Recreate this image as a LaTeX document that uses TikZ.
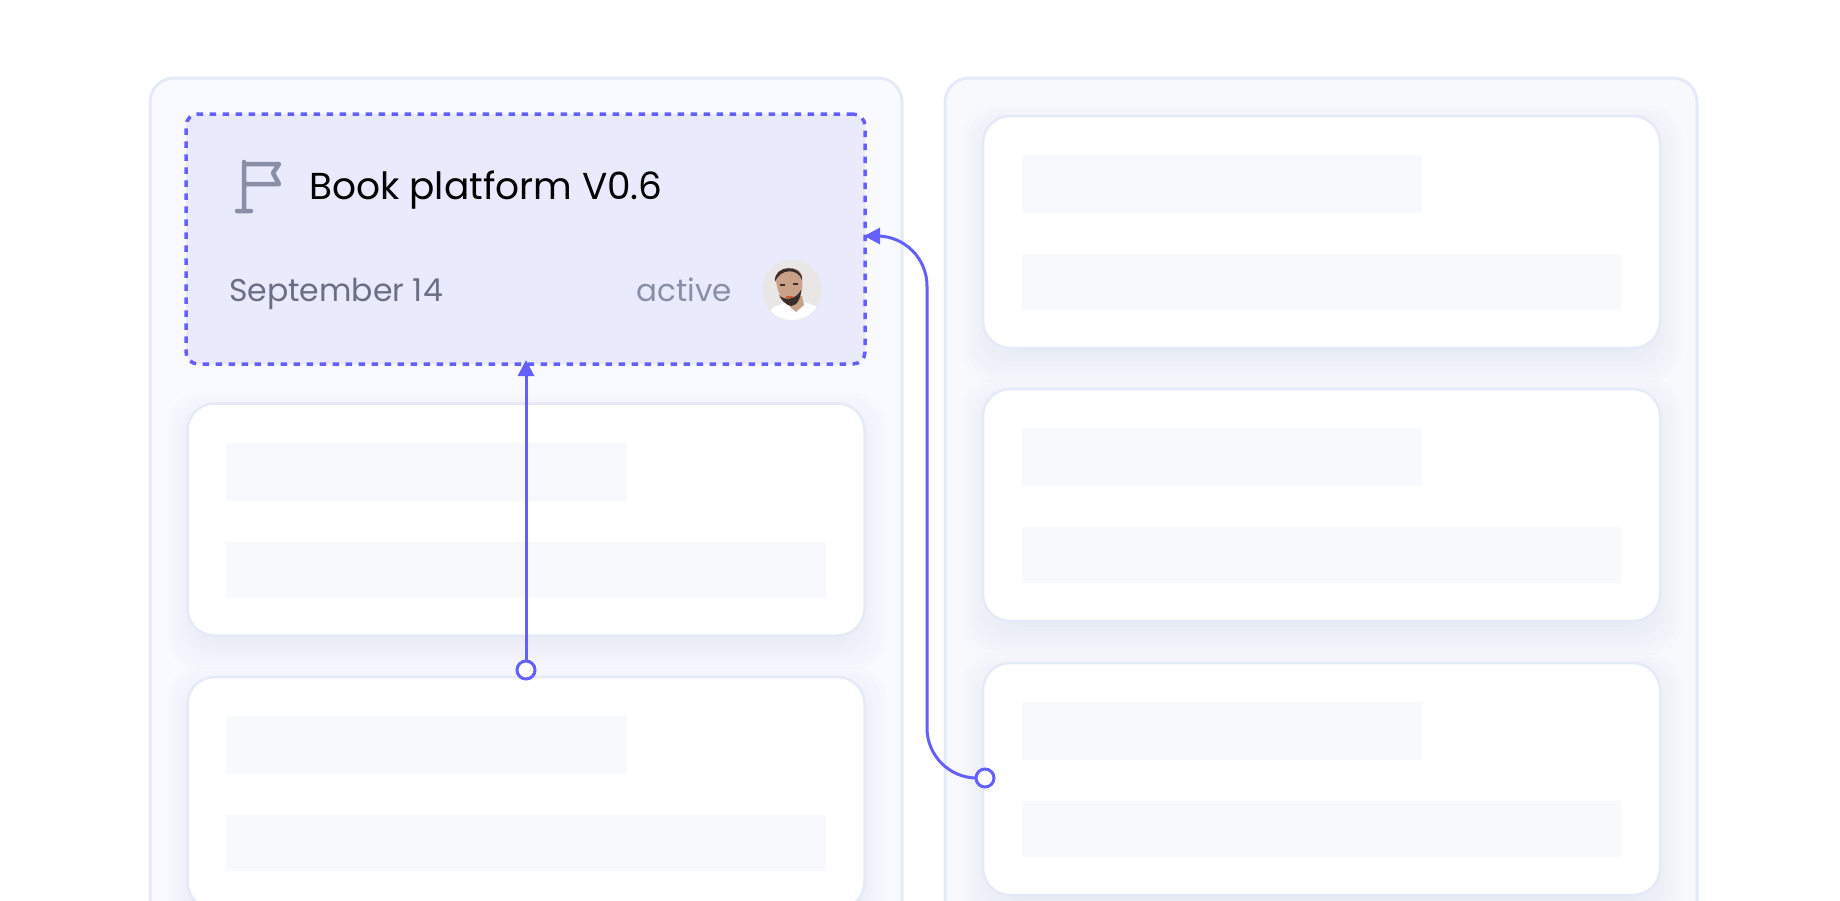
\documentclass[tikz,border=0pt]{standalone}
\usepackage{fontspec}
\setmainfont{Poppins}
\usetikzlibrary{arrows.meta}

\definecolor{accent}{HTML}{6360FF}
\definecolor{paneledge}{HTML}{E5EAF8}
\definecolor{panelfill}{HTML}{F9FAFF}
\definecolor{panelfilltwo}{HTML}{F8F9FD}
\definecolor{cardedge}{HTML}{E5EAF7}
\definecolor{barfill}{HTML}{F8F9FD}
\definecolor{selfill}{HTML}{E9EAFB}
\definecolor{iconcol}{HTML}{8A8FA8}
\definecolor{datecol}{HTML}{6B6F85}
\definecolor{statecol}{HTML}{8A8FA8}
\definecolor{shadowcol}{HTML}{8A9CAE}
\definecolor{skincol}{HTML}{C9A088}
\definecolor{haircol}{HTML}{3A2C28}
\definecolor{photobg}{HTML}{E9E7E6}

\tikzset{
	panel/.style={draw=paneledge, line width=3pt, rounded corners=24pt, anchor=north west,
		minimum width=752pt, minimum height=1000pt, inner sep=0pt, outer sep=0pt},
	card/.style={draw=cardedge, line width=2.5pt, fill=white, rounded corners=27pt, anchor=north west,
		minimum width=677pt, minimum height=232pt, inner sep=0pt, outer sep=0pt},
	shortbar/.style={fill=barfill, anchor=north west, minimum width=400.5pt, minimum height=58pt, inner sep=0pt},
	longbar/.style={fill=barfill, anchor=north west, minimum width=599.5pt, minimum height=56pt, inner sep=0pt},
	pin/.style={circle, draw=accent, fill=white, line width=3pt, minimum size=18pt, inner sep=0pt, outer sep=0pt},
	link/.style={draw=accent, line width=3pt, -{Triangle[length=16pt,width=16pt]}},
}

% card with its two bars and a soft shadow underneath
\newcommand{\wirecard}[3]{
	\foreach \g in {4,8,...,40}{
		\fill[shadowcol, opacity=.011, rounded corners=30pt]
			(#2+20-\g,#3+30-\g) rectangle (#2+658+\g,#3+226+\g);
	}
	\node[card] (#1) at (#2,#3) {};
	\node[shortbar] (#1short) at (#2+38.5,#3+39) {};
	\node[longbar] (#1long) at (#2+38.5,#3+138) {};
}

\begin{document}
\begin{tikzpicture}[x=1pt,y=-1pt]
	\useasboundingbox (0,0) rectangle (1840,900);
	\clip (0,0) rectangle (1840,900);

	\node[panel, fill=panelfill] (leftpanel) at (150,78) {};
	\node[panel, fill=panelfilltwo] (rightpanel) at (945,78) {};

	\wirecard{leftb}{187.5}{403.5}
	\wirecard{leftc}{187.5}{677}
	\wirecard{righta}{983}{116}
	\wirecard{rightb}{983}{389}
	\wirecard{rightc}{983}{663}

	\node[draw=accent, fill=selfill, line width=3.5pt, dash pattern=on 6.5pt off 6.5pt, rounded corners=12pt,
		anchor=north west, minimum width=679pt, minimum height=250pt, inner sep=0pt, outer sep=0pt] (selected) at (186,114) {};

	% flag icon
	\draw[iconcol, line width=4.5pt, line cap=round, line join=round]
		(244,162) -- (244,211) (237,211) -- (251,211)
		(244,164) -- (279,164) -- (273,173) -- (279,184) -- (244,184);

	\node[anchor=base west, font=\fontsize{37.5}{44}\selectfont, inner sep=0pt] (title) at (309,199) {Book platform V0.6};
	\node[anchor=base west, font=\fontsize{31.5}{38}\selectfont, text=datecol, inner sep=0pt] (date) at (229,301) {September 14};
	\node[anchor=base east, font=\fontsize{31}{38}\selectfont, text=statecol, inner sep=0pt] (state) at (732,301) {active};

	% avatar
	\node[circle, minimum size=60pt, inner sep=0pt, fill=photobg] (avatar) at (792,290) {};
	\begin{scope}
		\clip (792,290) circle (30pt);
		\fill[white] (768,322) -- (772,308) -- (786,302) -- (804,302) -- (816,306) -- (820,322) -- cycle;
		\fill[skincol] (785,296) -- (802,296) -- (804,305) -- (796,312) -- (787,304) -- cycle;
		\fill[skincol] (776,278) .. controls (776,266) and (800,264) .. (802,276)
			.. controls (804,290) and (800,304) .. (791,305) .. controls (784,304) and (776,292) .. (776,278) -- cycle;
		\fill[haircol] (775,282) .. controls (773,264) and (803,264) .. (802,280)
			.. controls (798,268) and (780,268) .. (775,282) -- cycle;
		\fill[haircol] (779,295) .. controls (784,301) and (796,300) .. (801,290)
			.. controls (801,298) and (797,306) .. (791,306) .. controls (786,305) and (781,300) .. (779,295) -- cycle;
		\fill[haircol] (780,283.5) rectangle (785,285.5);
		\fill[haircol] (793,282.5) rectangle (798,284.5);
		\fill[brown!70!red] (786,295.5) rectangle (793,297.5);
	\end{scope}

	\node[pin] (pina) at (526,670) {};
	\node[pin] (pinb) at (985,778) {};
	\coordinate (entry) at (864,236);

	\draw[link, shorten >=-4pt] (pina) -- (pina |- selected.south);
	\draw[link, rounded corners=50pt] (pinb.west) -- (927,778) -- (927,236) -- (entry);
\end{tikzpicture}
\end{document}
